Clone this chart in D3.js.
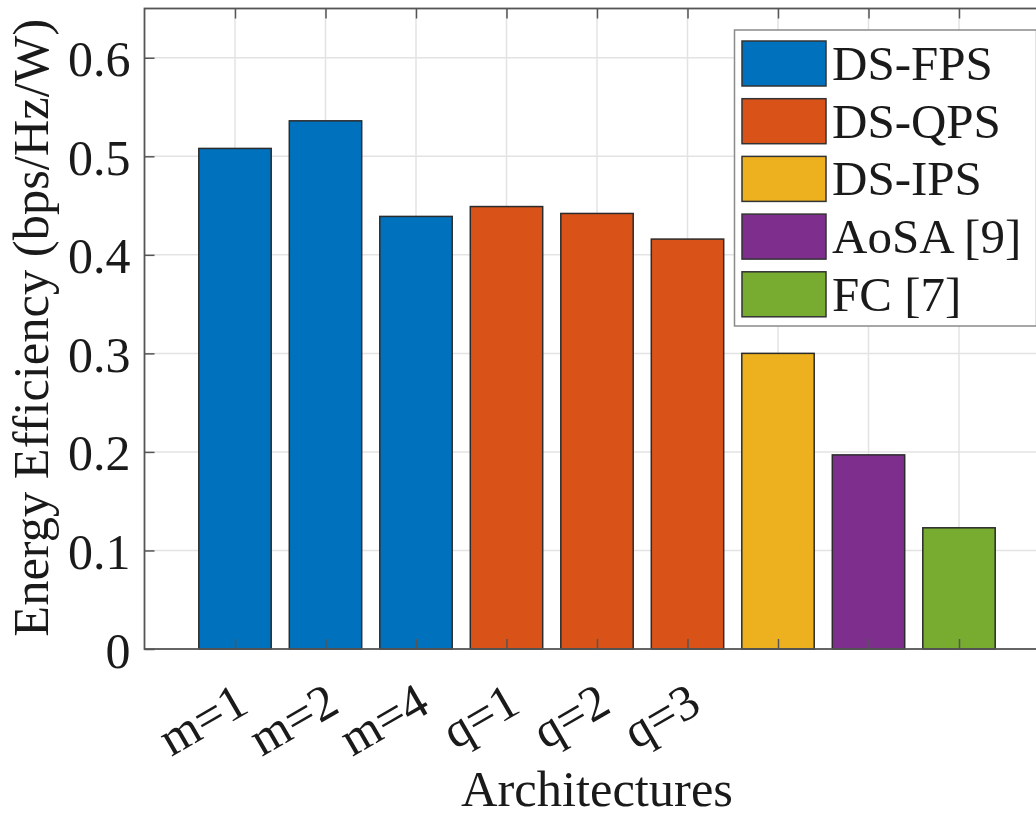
<!DOCTYPE html>
<html>
<head>
<meta charset="utf-8">
<script src="https://cdn.jsdelivr.net/npm/d3@7"></script>
<style>
  html, body { margin: 0; padding: 0; background: #fff; }
  svg { display: block; }
  text { font-family: "Liberation Serif", "Times New Roman", serif; fill: #1a1a1a; }
</style>
</head>
<body>
<svg id="chart" width="1036" height="813"></svg>
<script>
// ---- data ----
const categories = ["m=1", "m=2", "m=4", "q=1", "q=2", "q=3", "", "", ""];
const values = [0.508, 0.536, 0.439, 0.449, 0.442, 0.416, 0.300, 0.197, 0.123];
const seriesOfBar = [0, 0, 0, 1, 1, 1, 2, 3, 4];
const seriesNames = ["DS-FPS", "DS-QPS", "DS-IPS", "AoSA [9]", "FC [7]"];
const seriesColors = ["#0072BD", "#D95319", "#EDB120", "#7E2F8E", "#77AC30"];
const yTicks = [0, 0.1, 0.2, 0.3, 0.4, 0.5, 0.6];
const yTickLabels = ["0", "0.1", "0.2", "0.3", "0.4", "0.5", "0.6"];
const xLabel = "Architectures";
const yLabel = "Energy Efficiency (bps/Hz/W)";

// ---- layout ----
const svg = d3.select("#chart");
const pLeft = 144.5, pRight = 1049.5, pTop = 8.5, pBottom = 649;
const x = d3.scaleLinear().domain([0, 10]).range([pLeft, pRight]);
const y = d3.scaleLinear().domain([0, 0.65]).range([pBottom, pTop]);
const barW = 0.8;
const fsTick = 50, fsLabel = 50.5, fsLegend = 49;

// grid
const g = svg.append("g");
g.selectAll("line.vgrid").data(d3.range(1, 10)).enter().append("line")
  .attr("x1", d => x(d)).attr("x2", d => x(d))
  .attr("y1", y(0.65)).attr("y2", y(0))
  .attr("stroke", "#e3e3e3").attr("stroke-width", 1.5);
g.selectAll("line.hgrid").data(yTicks.slice(1)).enter().append("line")
  .attr("x1", pLeft).attr("x2", pRight)
  .attr("y1", d => y(d)).attr("y2", d => y(d))
  .attr("stroke", "#e3e3e3").attr("stroke-width", 1.5);

// bars
g.selectAll("rect.bar").data(values).enter().append("rect")
  .attr("x", (d, i) => x(i + 1 - barW / 2))
  .attr("width", (d, i) => x(i + 1 + barW / 2) - x(i + 1 - barW / 2))
  .attr("y", d => y(d))
  .attr("height", d => y(0) - y(d))
  .attr("fill", (d, i) => seriesColors[seriesOfBar[i]])
  .attr("stroke", "#2b2b2b").attr("stroke-width", 1.5);

// axes box
const axisColor = "#555";
svg.append("rect").attr("x", pLeft).attr("y", pTop)
  .attr("width", pRight - pLeft).attr("height", pBottom - pTop)
  .attr("fill", "none").attr("stroke", axisColor).attr("stroke-width", 1.8);

// y axis (ticks inward)
const yAxis = d3.axisLeft(y).tickValues(yTicks).tickSizeInner(-10).tickSizeOuter(0)
  .tickFormat((d, i) => yTickLabels[i]).tickPadding(14);
const ya = svg.append("g").attr("transform", `translate(${pLeft},0)`).call(yAxis);
ya.select(".domain").remove();
ya.selectAll(".tick line").attr("stroke", axisColor).attr("stroke-width", 1.5);
ya.selectAll(".tick text").attr("font-size", fsTick).attr("font-family", "Liberation Serif")
  .attr("fill", "#1a1a1a").attr("dy", "0.36em").attr("x", -14);

// x axis ticks (inward, bottom and top)
const xAxis = d3.axisBottom(x).tickValues(d3.range(1, 10)).tickSizeInner(-10).tickSizeOuter(0)
  .tickFormat("");
const xa = svg.append("g").attr("transform", `translate(0,${pBottom})`).call(xAxis);
xa.select(".domain").remove();
xa.selectAll(".tick line").attr("stroke", axisColor).attr("stroke-width", 1.5);
const xTop = d3.axisTop(x).tickValues(d3.range(1, 10)).tickSizeInner(-10).tickSizeOuter(0).tickFormat("");
const xt = svg.append("g").attr("transform", `translate(0,${pTop})`).call(xTop);
xt.select(".domain").remove();
xt.selectAll(".tick line").attr("stroke", axisColor).attr("stroke-width", 1.5);

// x tick labels rotated
svg.selectAll("text.xlab").data(categories).enter().append("text")
  .attr("class", "xlab")
  .attr("transform", (d, i) => `translate(${x(i + 1) + 16},${711}) rotate(-30)`)
  .attr("text-anchor", "end")
  .attr("font-size", fsTick)
  .text(d => d);

// axis labels
svg.append("text").attr("x", (pLeft + pRight) / 2).attr("y", 806)
  .attr("text-anchor", "middle").attr("font-size", fsLabel).text(xLabel);
svg.append("text").attr("transform", `translate(48,${(pTop + pBottom) / 2 - 1}) rotate(-90)`)
  .attr("text-anchor", "middle").attr("font-size", fsLabel).text(yLabel);

// legend
const lx = 734.5, ly = 30, lw = 302, lh = 296;
const leg = svg.append("g");
leg.append("rect").attr("x", lx).attr("y", ly).attr("width", lw).attr("height", lh)
  .attr("fill", "#fff").attr("stroke", "#8a8a8a").attr("stroke-width", 1.5);
const items = leg.selectAll("g.item").data(seriesNames).enter().append("g")
  .attr("transform", (d, i) => `translate(0,${ly + 11 + i * 57.7})`);
items.append("rect").attr("x", 742).attr("y", 0).attr("width", 84).attr("height", 45)
  .attr("fill", (d, i) => seriesColors[i]).attr("stroke", "#333").attr("stroke-width", 1.5);
items.append("text").attr("x", 832).attr("y", 39).attr("font-size", fsLegend).text(d => d);
</script>
</body>
</html>
